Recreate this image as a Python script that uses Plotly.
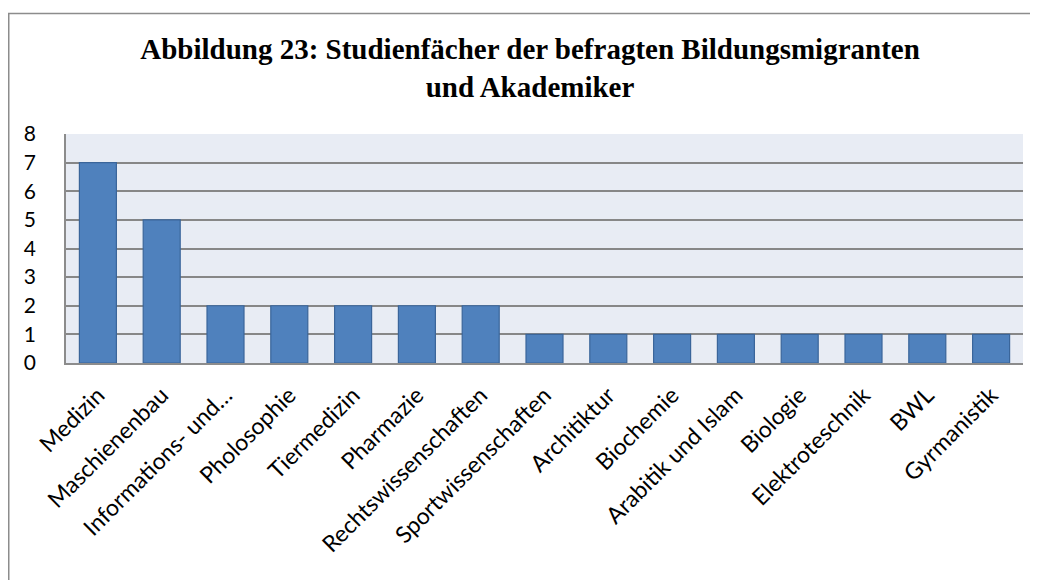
import plotly.graph_objects as go

categories = ["Medizin", "Maschienenbau", "Informations- und…", "Pholosophie", "Tiermedizin",
              "Pharmazie", "Rechtswissenschaften", "Sportwissenschaften", "Architiktur",
              "Biochemie", "Arabitik und Islam", "Biologie", "Elektroteschnik", "BWL", "Gyrmanistik"]
values = [7, 5, 2, 2, 2, 2, 2, 1, 1, 1, 1, 1, 1, 1, 1]
y_ticks = [0, 1, 2, 3, 4, 5, 6, 7, 8]

# page body has an 8px default margin: work in screen pixels, then shift
OFF = 8
W, H = 1038 - OFF, 580 - OFF
L, R, T, B = 66 - OFF, 1023 - OFF, 134 - OFF, 363 - OFF
pw, ph = R - L, B - T

def px_x(x):
    return (x - OFF - L) / pw

def px_y(y):
    return (B - (y - OFF)) / ph

fig = go.Figure()
fig.add_trace(go.Bar(
    x=categories, y=values,
    marker=dict(color="#4F81BD", line=dict(color="#3A659A", width=1.2)),
    width=0.58,
))

fig.update_layout(
    width=W, height=H,
    margin=dict(l=L, r=W - R, t=T, b=H - B, pad=0),
    paper_bgcolor="white",
    plot_bgcolor="#E8ECF4",
    showlegend=False,
    title=dict(
        text="<b>Abbildung 23: Studienfächer der befragten Bildungsmigranten<br>und Akademiker</b>",
        x=(530 - OFF) / W, xanchor="center", y=1 - (59 - OFF) / H, yanchor="middle",
        font=dict(family="Liberation Serif", size=29, color="black"),
    ),
    font=dict(family="Lato", size=23, color="black"),
    bargap=0.42,
)

fig.update_xaxes(
    tickangle=-45,
    showgrid=False,
    showline=True, linecolor="#8C8C8C", linewidth=1.5,
    ticks="outside", ticklen=8, tickcolor="rgba(0,0,0,0)",
    tickfont=dict(family="Lato", size=23, color="black"),
)
fig.update_yaxes(
    range=[0, 8], tickvals=y_ticks,
    showgrid=True, gridcolor="#878787", gridwidth=1.5,
    showline=True, linecolor="#8C8C8C", linewidth=1.5,
    zeroline=False,
    ticks="outside", ticklen=24, tickcolor="rgba(0,0,0,0)",
    tickfont=dict(family="Lato", size=21, color="black"),
)

# outer chart frame (top and left visible; right/bottom cut off)
fig.add_shape(type="rect", xref="paper", yref="paper",
              x0=px_x(8.75), x1=px_x(1080), y0=px_y(620), y1=px_y(13.5),
              line=dict(color="#8C8C8C", width=1.5), fillcolor="rgba(0,0,0,0)", layer="below")

fig.write_html("out.html")
